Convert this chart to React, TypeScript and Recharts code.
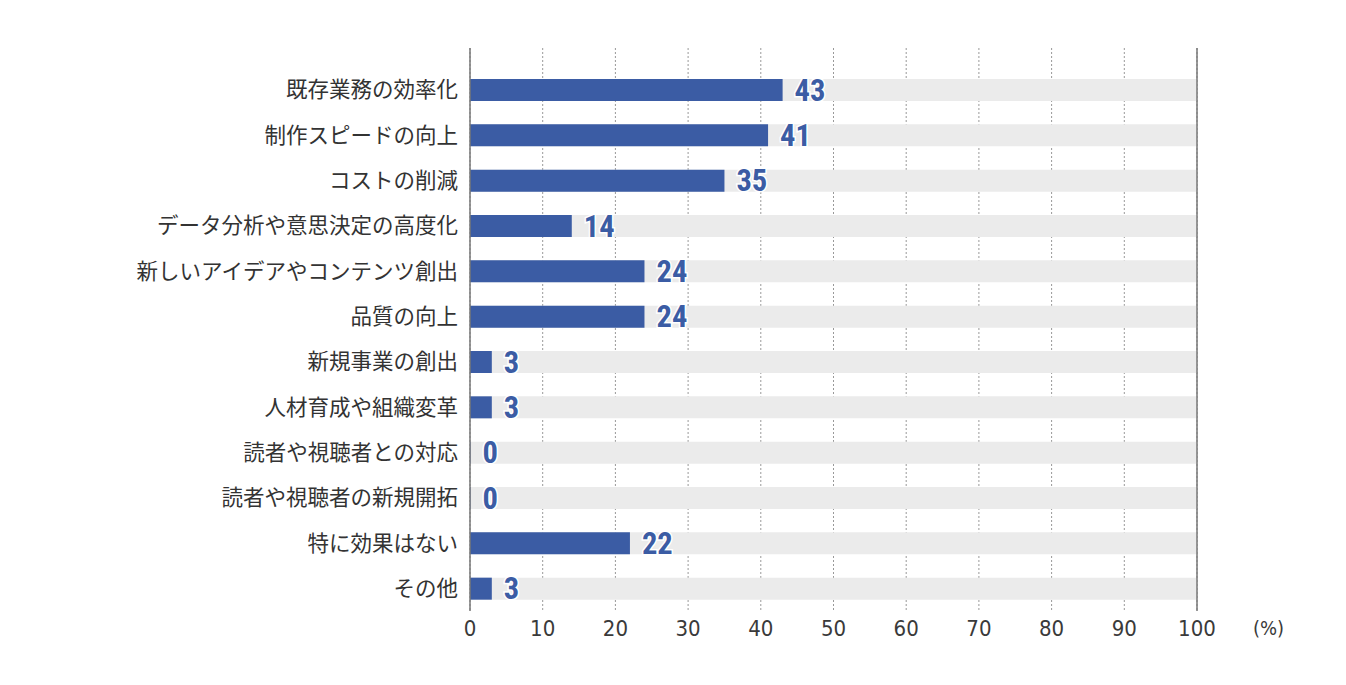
import { BarChart, Bar, XAxis, YAxis, CartesianGrid, LabelList, ReferenceLine } from "recharts";

const categories = [
  "既存業務の効率化",
  "制作スピードの向上",
  "コストの削減",
  "データ分析や意思決定の高度化",
  "新しいアイデアやコンテンツ創出",
  "品質の向上",
  "新規事業の創出",
  "人材育成や組織変革",
  "読者や視聴者との対応",
  "読者や視聴者の新規開拓",
  "特に効果はない",
  "その他",
];

const values = [43, 41, 35, 14, 24, 24, 3, 3, 0, 0, 22, 3];

const xTicks = [0, 10, 20, 30, 40, 50, 60, 70, 80, 90, 100];

const data = categories.map((name, i) => ({ name, value: values[i] }));

const BLUE = "#3b5ca4";

export default function App() {
  return (
    <div style={{ position: "absolute", left: 0, top: 0, width: 1346, height: 685, background: "#fff" }}>
      <BarChart
        width={1346}
        height={685}
        data={data}
        layout="vertical"
        margin={{ top: 48, right: 149, left: 0, bottom: 34 }}
      >
        <CartesianGrid horizontal={false} vertical stroke="#999" strokeDasharray="2 2" />
        <XAxis
          type="number"
          domain={[0, 100]}
          ticks={xTicks}
          axisLine={false}
          tickLine={false}
          tickSize={0}
          tickMargin={9}
          height={40}
          tick={{ fill: "#3a3a3a", fontSize: 22, fontFamily: "'DejaVu Sans Condensed', 'DejaVu Sans', sans-serif" }}
        />
        <YAxis
          type="category"
          dataKey="name"
          width={470}
          padding={{ top: 19, bottom: 0 }}
          axisLine={{ stroke: "#777", strokeWidth: 1.5 }}
          tickLine={false}
          tickSize={0}
          tickMargin={12}
          interval={0}
          tick={{ fill: "#333", fontSize: 21.5, fontFamily: "'Noto Sans CJK JP', sans-serif" }}
        />
        <ReferenceLine x={100} stroke="#777" strokeWidth={1.5} />
        <Bar
          dataKey="value"
          fill={BLUE}
          barSize={22}
          minPointSize={0.5}
          background={{ fill: "#ebebeb" }}
          isAnimationActive={false}
        >
          <LabelList
            dataKey="value"
            position="right"
            offset={12}
            fill={BLUE}
            stroke="#fff"
            strokeWidth={3}
            paintOrder="stroke"
            style={{
              fontSize: 30.5,
              fontWeight: "bold",
              fontFamily: "'Roboto Condensed', Roboto, sans-serif",
            }}
          />
        </Bar>
      </BarChart>
      <div
        style={{
          position: "absolute",
          left: 1253,
          top: 616,
          fontSize: 20,
          color: "#3a3a3a",
          fontFamily: "'DejaVu Sans Condensed', 'DejaVu Sans', sans-serif",
        }}
      >
        (%)
      </div>
    </div>
  );
}
